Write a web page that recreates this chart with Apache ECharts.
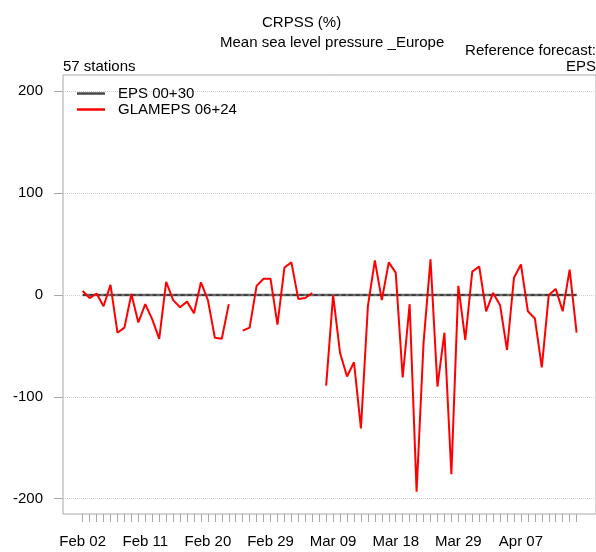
<!DOCTYPE html>
<html>
<head>
<meta charset="utf-8">
<script src="https://cdn.jsdelivr.net/npm/echarts@6/dist/echarts.min.js"></script>
<style>
  html, body { margin: 0; padding: 0; background: #fff; }
  #chart { width: 596px; height: 552px; }
</style>
</head>
<body>
<div id="chart"></div>
<script>
// dates on the axis (two days missing between Mar 18 and Mar 29)
const dates = [
  'Feb 02', 'Feb 03', 'Feb 04', 'Feb 05', 'Feb 06', 'Feb 07', 'Feb 08', 'Feb 09', 'Feb 10',
  'Feb 11', 'Feb 12', 'Feb 13', 'Feb 14', 'Feb 15', 'Feb 16', 'Feb 17', 'Feb 18', 'Feb 19',
  'Feb 20', 'Feb 21', 'Feb 22', 'Feb 23', 'Feb 24', 'Feb 25', 'Feb 26', 'Feb 27', 'Feb 28',
  'Feb 29', 'Mar 01', 'Mar 02', 'Mar 03', 'Mar 04', 'Mar 05', 'Mar 06', 'Mar 07', 'Mar 08',
  'Mar 09', 'Mar 10', 'Mar 11', 'Mar 12', 'Mar 13', 'Mar 14', 'Mar 15', 'Mar 16', 'Mar 17',
  'Mar 18', 'Mar 19', 'Mar 20', 'Mar 21', 'Mar 22', 'Mar 23', 'Mar 24', 'Mar 25', 'Mar 28',
  'Mar 29', 'Mar 30', 'Mar 31', 'Apr 01', 'Apr 02', 'Apr 03', 'Apr 04', 'Apr 05', 'Apr 06',
  'Apr 07', 'Apr 08', 'Apr 09', 'Apr 10', 'Apr 11', 'Apr 12', 'Apr 13', 'Apr 14', 'Apr 15'
];
const labelDates = ['Feb 02', 'Feb 11', 'Feb 20', 'Feb 29', 'Mar 09', 'Mar 18', 'Mar 29', 'Apr 07'];

// CRPSS (%) per day
const eps = [
  0, 0, 0, 0, 0, 0, 0, 0, 0, 0, 0, 0, 0, 0, 0, 0, 0, 0,
  0, 0, 0, 0, 0, 0, 0, 0, 0, 0, 0, 0, 0, 0, 0, 0, 0, 0,
  0, 0, 0, 0, 0, 0, 0, 0, 0, 0, 0, 0, 0, 0, 0, 0, 0, 0,
  0, 0, 0, 0, 0, 0, 0, 0, 0, 0, 0, 0, 0, 0, 0, 0, 0, 0
];
const glameps = [
  4, -3, 1.5, -11, 10, -37, -32, 1, -27, -9, -24, -43, 13, -5, -12, -6.5, -18, 12.5,
  -5, -42, -43, -9, null, -35, -32, 9, 16, 16, -29, 27, 32, -4, -3, 2, null, -89,
  0, -57, -80, -66, -131, -11, 34, -5, 32, 22, -81, -9, -193, -47, 35, -90, -37, -176,
  9, -44, 23, 28, -16, 2, -10, -54, 17, 30, -16, -23, -71, 0, 6, -16, 25, -37
];
const yTicks = [-200, -100, 0, 100, 200];

const idx = dates.map((d, i) => i);
const labelIdx = labelDates.map(d => dates.indexOf(d));
const FONT = '"Liberation Sans", Arial, sans-serif';

const chart = echarts.init(document.getElementById('chart'));
const option = {
  animation: false,
  textStyle: { fontFamily: FONT },
  grid: {
    left: 63, right: -1, top: 75, bottom: 38,
    show: true, borderColor: '#a8a8a8', borderWidth: 1
  },
  legend: {
    orient: 'vertical',
    left: 77, top: 86, padding: 0,
    itemWidth: 28, itemHeight: 2.5, itemGap: 1,
    icon: 'rect',
    data: [
      { name: 'EPS 00+30', itemStyle: { color: '#4a4a4a', borderWidth: 0 } },
      { name: 'GLAMEPS 06+24', itemStyle: { color: '#ff0000', borderWidth: 0 } }
    ],
    textStyle: { fontSize: 15, color: '#000', fontFamily: FONT, padding: [0, 0, 0, 8] }
  },
  graphic: [
    { type: 'text', left: 262, top: 15, style: { text: 'CRPSS (%)', font: '15px ' + FONT, fill: '#000' } },
    { type: 'text', left: 220, top: 35, style: { text: 'Mean sea level pressure _Europe', font: '15px ' + FONT, fill: '#000' } },
    { type: 'text', right: 0, top: 43, style: { text: 'Reference forecast:', font: '15px ' + FONT, fill: '#000' } },
    { type: 'text', right: 0, top: 59, style: { text: 'EPS', font: '15px ' + FONT, fill: '#000' } },
    { type: 'text', left: 63, top: 59, style: { text: '57 stations', font: '15px ' + FONT, fill: '#000' } }
  ],
  xAxis: {
    type: 'value',
    min: -2.83, max: 73.79,
    axisLine: { show: false, onZero: false },
    axisTick: { show: true, customValues: idx, length: 8, lineStyle: { color: '#a8a8a8' } },
    axisLabel: {
      customValues: labelIdx, margin: 20, fontSize: 15, color: '#000',
      formatter: v => dates[Math.round(v)]
    },
    splitLine: { show: false }
  },
  yAxis: {
    type: 'value',
    min: -215, max: 216,
    axisLine: { show: false, onZero: false },
    axisTick: { show: true, customValues: yTicks, length: 9, lineStyle: { color: '#a8a8a8' } },
    axisLabel: { customValues: yTicks, margin: 20, fontSize: 15, color: '#000' },
    splitLine: { show: true, lineStyle: { color: '#d0d0d0', type: 'dotted', width: 1 } }
  },
  series: [
    {
      name: 'EPS 00+30', type: 'line', symbol: 'none',
      data: eps.map((v, i) => [i, v]),
      lineStyle: { color: '#6e6e6e', width: 2.5 },
      itemStyle: { color: '#4a4a4a' }
    },
    {
      name: 'EPS 00+30', type: 'line', symbol: 'none',
      data: eps.map((v, i) => [i, v]),
      lineStyle: { color: '#111', width: 1, type: [4, 3] },
      itemStyle: { color: '#4a4a4a' }
    },
    {
      name: 'GLAMEPS 06+24', type: 'line', symbol: 'none',
      data: glameps.map((v, i) => [i, v]),
      connectNulls: false,
      lineStyle: { color: '#ff0000', width: 2 },
      itemStyle: { color: '#ff0000' }
    }
  ]
};
chart.setOption(option);
window.onresize = () => {
  chart.resize();
};
</script>
</body>
</html>
